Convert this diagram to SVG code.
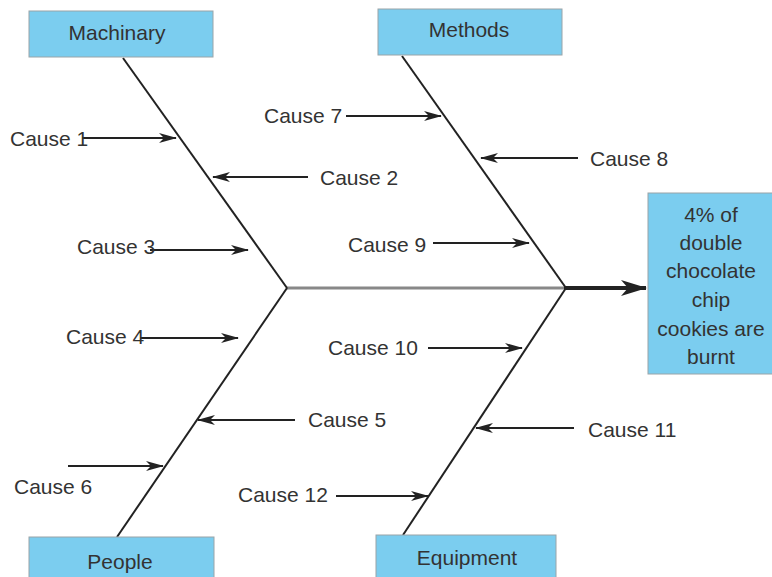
<svg xmlns="http://www.w3.org/2000/svg" width="772" height="577" viewBox="0 0 772 577">
<style>
.box{fill:#7bcdef;stroke:#9aa4a8;stroke-width:1}
.t{font-family:"Liberation Sans",Arial,sans-serif;font-size:21px;fill:#333}
.bone{stroke:#222;stroke-width:2;fill:none}
.ar{stroke:#222;stroke-width:2;fill:none;marker-end:url(#ah)}
</style>
<defs>
<marker id="ah" viewBox="0 0 18 10" refX="17" refY="5" markerWidth="18" markerHeight="10" markerUnits="userSpaceOnUse" orient="auto">
<path d="M0,0 L18,5 L0,10 L5,5 Z" fill="#222"/>
</marker>
<marker id="ahb" viewBox="0 0 26 16" refX="25" refY="8" markerWidth="26" markerHeight="16" markerUnits="userSpaceOnUse" orient="auto">
<path d="M0,0 L26,8 L0,16 L7,8 Z" fill="#222"/>
</marker>
</defs>
<rect width="772" height="577" fill="#fff"/>
<g id="connectors">
<line x1="287" y1="288" x2="566" y2="288" stroke="#888" stroke-width="3"/>
<line x1="564" y1="288" x2="646" y2="288" stroke="#222" stroke-width="4" marker-end="url(#ahb)"/>
<line class="bone" x1="123" y1="58" x2="287" y2="288"/>
<line class="bone" x1="287" y1="288" x2="117" y2="537"/>
<line class="bone" x1="402" y1="56" x2="566" y2="288"/>
<line class="bone" x1="566" y1="288" x2="403" y2="535"/>
<line class="ar" x1="82" y1="138" x2="176" y2="138"/>
<line class="ar" x1="308" y1="177" x2="213" y2="177"/>
<line class="ar" x1="150" y1="250" x2="248" y2="250"/>
<line class="ar" x1="140" y1="338" x2="238" y2="338"/>
<line class="ar" x1="295" y1="420" x2="198" y2="420"/>
<line class="ar" x1="68" y1="466" x2="163" y2="466"/>
<line class="ar" x1="346" y1="116" x2="441" y2="116"/>
<line class="ar" x1="578" y1="158" x2="481" y2="158"/>
<line class="ar" x1="433" y1="243" x2="529" y2="243"/>
<line class="ar" x1="428" y1="348" x2="522" y2="348"/>
<line class="ar" x1="574" y1="428" x2="476" y2="428"/>
<line class="ar" x1="336" y1="496" x2="428" y2="496"/>
</g>
<g id="machinary"><rect class="box" x="29" y="11" width="184" height="46"/><text class="t" x="117" y="40" text-anchor="middle">Machinary</text></g>
<g id="methods"><rect class="box" x="378" y="9" width="184" height="46"/><text class="t" x="469" y="37" text-anchor="middle">Methods</text></g>
<g id="people"><rect class="box" x="29" y="537" width="185" height="46"/><text class="t" x="120" y="569" text-anchor="middle">People</text></g>
<g id="equipment"><rect class="box" x="376" y="535" width="180" height="46"/><text class="t" x="467" y="565" text-anchor="middle">Equipment</text></g>
<g id="effect"><rect class="box" x="648" y="193" width="126" height="181"/>
<text class="t" x="711" text-anchor="middle"><tspan x="711" y="222">4% of</tspan><tspan x="711" y="250">double</tspan><tspan x="711" y="278">chocolate</tspan><tspan x="711" y="307">chip</tspan><tspan x="711" y="336">cookies are</tspan><tspan x="711" y="364">burnt</tspan></text></g>
<g id="causes">
<text class="t" x="10" y="146">Cause 1</text>
<text class="t" x="320" y="185">Cause 2</text>
<text class="t" x="77" y="254">Cause 3</text>
<text class="t" x="66" y="344">Cause 4</text>
<text class="t" x="308" y="427">Cause 5</text>
<text class="t" x="14" y="494">Cause 6</text>
<text class="t" x="264" y="123">Cause 7</text>
<text class="t" x="590" y="166">Cause 8</text>
<text class="t" x="348" y="252">Cause 9</text>
<text class="t" x="328" y="355">Cause 10</text>
<text class="t" x="588" y="437">Cause 11</text>
<text class="t" x="238" y="502">Cause 12</text>
</g>
</svg>
